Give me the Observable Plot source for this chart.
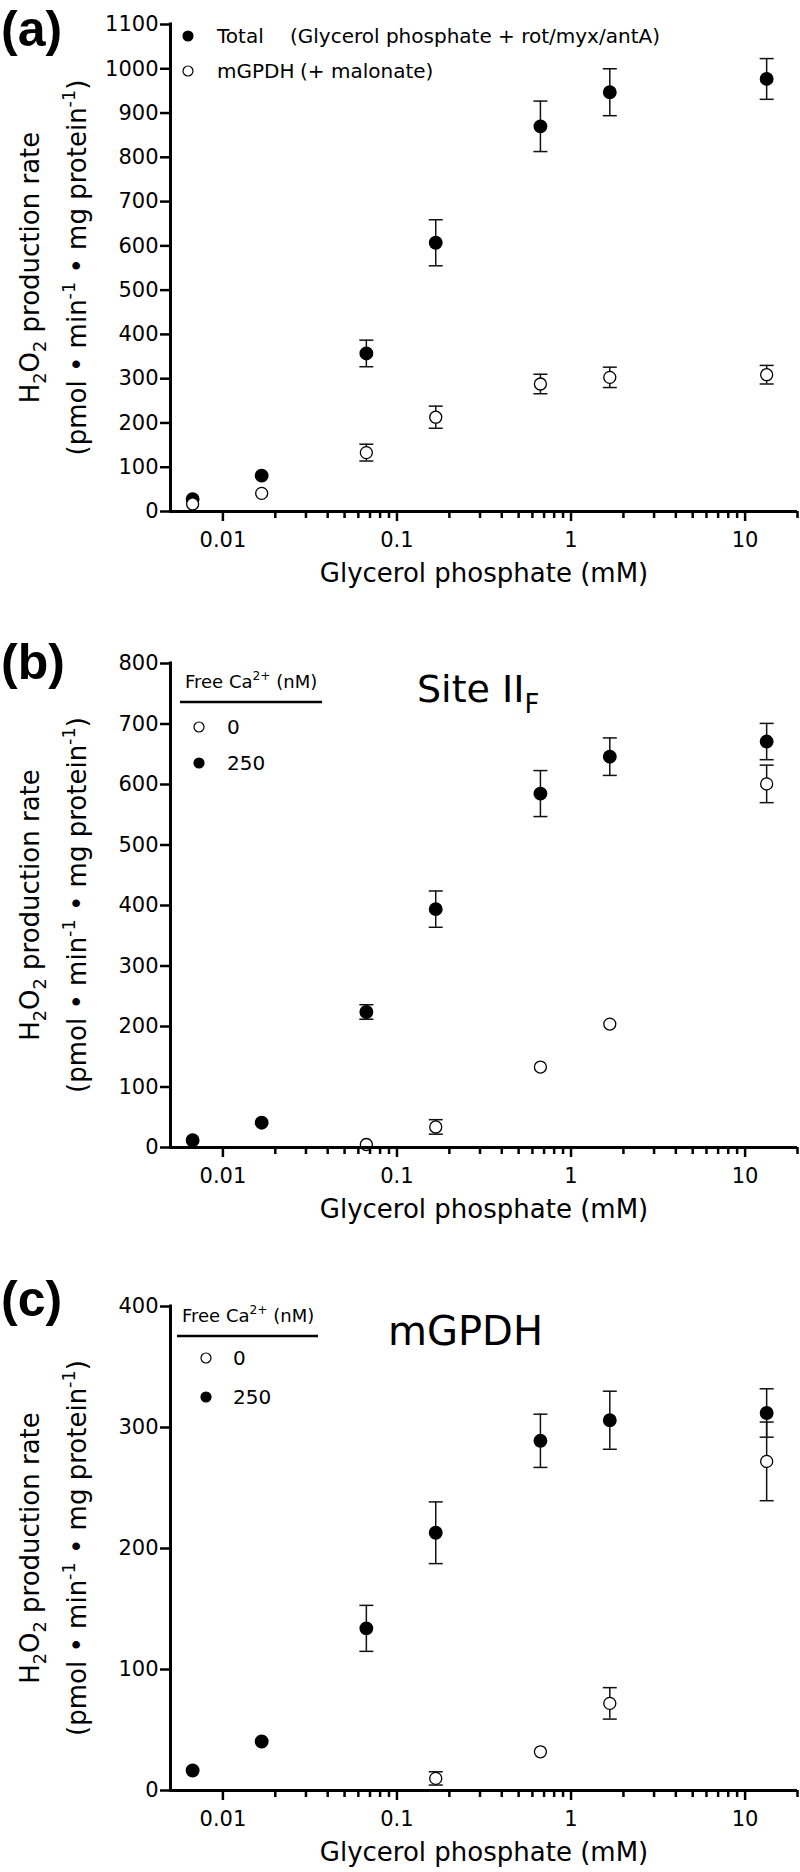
<!DOCTYPE html>
<html><head><meta charset="utf-8">
<script src="https://cdn.jsdelivr.net/npm/d3@7"></script>
<script src="https://cdn.jsdelivr.net/npm/@observablehq/plot@0.6"></script>
<style>
html,body{margin:0;padding:0;background:#fff;}
#chart{width:800px;}
#chart svg{display:block;}
text{white-space:pre;}
</style></head><body><div id="chart"></div>
<script>
const FONT = "DejaVu Sans";
// Glycerol phosphate concentrations (mM)
const conc = [0.0067, 0.0167, 0.0667, 0.167, 0.667, 1.67, 13.3];
// Panel (a)
const aTotal    = [28, 81, 357, 607, 870, 947, 977];
const aTotalErr = [0, 0, 30, 52, 57, 53, 46];
const aMgpdh    = [17, 41, 133, 213, 288, 303, 309];
const aMgpdhErr = [0, 0, 19, 25, 22, 23, 21];
// Panel (b) Site IIF
const bCa0       = [null, null, 5, 34, 133, 204, 601];
const bCa0Err    = [0, 0, 0, 12, 0, 0, 31];
const bCa250     = [12, 41, 224, 394, 585, 646, 671];
const bCa250Err  = [0, 0, 12, 30, 38, 31, 30];
// Panel (c) mGPDH
const cCa0       = [null, null, null, 10, 32, 72, 272];
const cCa0Err    = [0, 0, 0, 5.5, 0, 13, 32.5];
const cCa250     = [16.5, 40.5, 134, 213, 289, 306, 312];
const cCa250Err  = [0, 0, 19, 25.5, 22, 24, 20];
// Ticks
const xMajor = [0.01, 0.1, 1, 10];
const xMinor = [0.02,0.03,0.04,0.05,0.06,0.07,0.08,0.09,0.2,0.3,0.4,0.5,0.6,0.7,0.8,0.9,2,3,4,5,6,7,8,9,20];
const yTicksA = [0,100,200,300,400,500,600,700,800,900,1000,1100];
const yTicksB = [0,100,200,300,400,500,600,700,800];
const yTicksC = [0,100,200,300,400];
// Texts
const xLabel = "Glycerol phosphate (mM)";
const yLabel1 = "H_{2}O_{2} production rate";
const yLabel2 = "(pmol \u2022 min^{-1} \u2022 mg protein^{-1})";
const legendA = ["Total", "(Glycerol phosphate + rot/myx/antA)", "mGPDH", "(+ malonate)"];
const legendTitle = "Free Ca^{2+} (nM)";
const legendCa = ["0", "250"];
const titleB = "Site II_{F}";
const titleC = "mGPDH";

function rows(xs, ys, es){ return xs.map((x,i)=>({x, y: ys[i], e: es[i]})).filter(d=>d.y!=null); }
function capSymbol(w){ return {draw(ctx){ ctx.moveTo(-w,0); ctx.lineTo(w,0); }}; }

function rich(g, {x, y, text, size, anchor="start", rotate=0, weight="normal", family=FONT}) {
  const t = g.append("text")
    .attr("transform", `translate(${x},${y}) rotate(${rotate})`)
    .attr("text-anchor", anchor).attr("font-family", family)
    .attr("font-size", size).attr("font-weight", weight).attr("fill", "black");
  const parts = text.split(/(_\{[^}]*\}|\^\{[^}]*\})/).filter(s => s.length);
  let cur = 0;
  for (const p of parts) {
    let s = p, target = 0, fs = size;
    if (p.startsWith("_{")) { s = p.slice(2,-1); target = size*0.28; fs = size*0.68; }
    else if (p.startsWith("^{")) { s = p.slice(2,-1); target = -size*0.42; fs = size*0.68; }
    t.append("tspan").attr("dy", target - cur).attr("font-size", fs).text(s);
    cur = target;
  }
  return t;
}

function panel({height, mt, mb, yMax, yTicks, filled, open, decorate}) {
  const errRows = [...filled, ...open].filter(d => d.e > 0);
  const caps = errRows.flatMap(d => [{x:d.x, y:d.y+d.e}, {x:d.x, y:d.y-d.e}]);
  const svg = Plot.plot({
    width: 800, height, marginLeft: 170, marginRight: 3, marginTop: mt, marginBottom: mb,
    x: {type: "log", domain: [0.005, 20]},
    y: {domain: [0, yMax]},
    style: {fontFamily: FONT, fontSize: "21px", color: "black", background: "white", overflow: "visible"},
    marks: [
      Plot.axisY({ticks: yTicks, tickSize: 10, tickPadding: 2, strokeWidth: 2.5, fontSize: 21, tickFormat: d => String(d), label: null}),
      Plot.axisX({ticks: xMinor, tickSize: 7, strokeWidth: 2.5, tickFormat: () => "", label: null}),
      Plot.axisX({ticks: xMajor, tickSize: 10, tickPadding: 11, strokeWidth: 2.5, fontSize: 21, tickFormat: d => String(d), label: null}),
      Plot.ruleX(errRows, {x: "x", y1: d => d.y - d.e, y2: d => d.y + d.e, stroke: "#111", strokeWidth: 1.5}),
      Plot.dot(caps, {x: "x", y: "y", symbol: capSymbol(7), stroke: "#111", strokeWidth: 1.5, fill: "none"}),
      Plot.dot(filled, {x: "x", y: "y", r: 6.2, fill: "black", stroke: "black"}),
      Plot.dot(open, {x: "x", y: "y", r: 6, fill: "white", stroke: "black", strokeWidth: 1.3}),
      Plot.ruleX([0.005], {y1: 0, y2: yMax, strokeWidth: 3, strokeLinecap: "square"}),
      Plot.ruleY([0], {strokeWidth: 3})
    ]
  });
  const g = d3.select(svg).append("g");
  const cy = (mt + height - mb) / 2;
  rich(g, {x: 39, y: cy, text: yLabel1, size: 26, anchor: "middle", rotate: -90});
  rich(g, {x: 86, y: cy, text: yLabel2, size: 26, anchor: "middle", rotate: -90});
  rich(g, {x: 484, y: height - mb + 71, text: xLabel, size: 26, anchor: "middle"});
  decorate(g);
  document.getElementById("chart").appendChild(svg);
}

function dotAt(g, x, y, filled) {
  g.append("circle").attr("cx", x).attr("cy", y).attr("r", 5)
    .attr("fill", filled ? "black" : "white").attr("stroke", "black").attr("stroke-width", 1.2);
}

panel({height: 620, mt: 24, mb: 109, yMax: 1100, yTicks: yTicksA,
  filled: rows(conc, aTotal, aTotalErr), open: rows(conc, aMgpdh, aMgpdhErr),
  decorate(g) {
    rich(g, {x: 1, y: 45.5, text: "(a)", size: 50, weight: "bold", family: "Liberation Sans"});
    dotAt(g, 188, 36, true); dotAt(g, 188, 71, false);
    rich(g, {x: 217, y: 43, text: legendA[0], size: 20});
    rich(g, {x: 290, y: 43, text: legendA[1], size: 20});
    rich(g, {x: 217, y: 78, text: legendA[2], size: 20});
    rich(g, {x: 300, y: 78, text: legendA[3], size: 20});
  }});

panel({height: 630, mt: 43, mb: 103, yMax: 800, yTicks: yTicksB,
  filled: rows(conc, bCa250, bCa250Err), open: rows(conc, bCa0, bCa0Err),
  decorate(g) {
    rich(g, {x: 1, y: 58.5, text: "(b)", size: 50, weight: "bold", family: "Liberation Sans"});
    rich(g, {x: 185, y: 68, text: legendTitle, size: 18});
    g.append("line").attr("x1", 180).attr("x2", 322).attr("y1", 82).attr("y2", 82).attr("stroke", "black").attr("stroke-width", 2.5);
    dotAt(g, 199, 107, false); dotAt(g, 199, 143, true);
    rich(g, {x: 227, y: 114, text: legendCa[0], size: 20});
    rich(g, {x: 227, y: 150, text: legendCa[1], size: 20});
    rich(g, {x: 417, y: 82, text: titleB, size: 38});
  }});

panel({height: 622, mt: 56, mb: 82, yMax: 400, yTicks: yTicksC,
  filled: rows(conc, cCa250, cCa250Err), open: rows(conc, cCa0, cCa0Err),
  decorate(g) {
    rich(g, {x: 1, y: 66, text: "(c)", size: 50, weight: "bold", family: "Liberation Sans"});
    rich(g, {x: 182, y: 72, text: legendTitle, size: 18});
    g.append("line").attr("x1", 177).attr("x2", 318).attr("y1", 86).attr("y2", 86).attr("stroke", "black").attr("stroke-width", 2.5);
    dotAt(g, 206, 108, false); dotAt(g, 206, 147, true);
    rich(g, {x: 233, y: 115, text: legendCa[0], size: 20});
    rich(g, {x: 233, y: 154, text: legendCa[1], size: 20});
    rich(g, {x: 388, y: 95, text: titleC, size: 40});
  }});
</script></body></html>
